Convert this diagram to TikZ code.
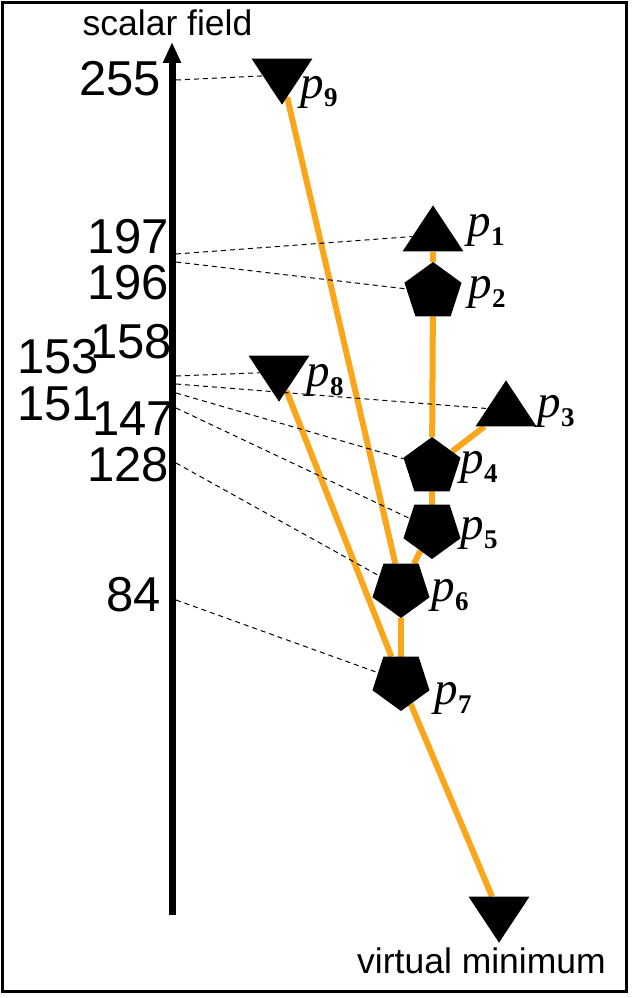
\documentclass[tikz,border=0pt]{standalone}
\usepackage{fontspec}
\setmainfont{Liberation Serif}
\newfontfamily\lsans{Liberation Sans}
\usetikzlibrary{shapes.geometric,arrows.meta}
\pgfdeclarelayer{bg}
\pgfsetlayers{bg,main}
\definecolor{edgeor}{RGB}{250,166,26}
\newcommand\plab[1]{\textit{p}\kern0.5pt\raisebox{-9pt}{\fontsize{27pt}{27pt}\selectfont\bfseries #1}}
\begin{document}
\begin{tikzpicture}[x=1pt,y=-1pt,
  tri/.style={isosceles triangle, isosceles triangle apex angle=67, fill=black, draw=none, inner sep=0pt, minimum width=46pt, minimum height=46pt, anchor=apex},
  triup/.style={tri, shape border rotate=90},
  tridown/.style={tri, shape border rotate=270},
  pent/.style={regular polygon, regular polygon sides=5, fill=black, draw=none, inner sep=0pt, minimum size=60pt},
  pentup/.style={pent},
  pentdown/.style={pent, shape border rotate=180},
  plabel/.style={font=\fontsize{47pt}{47pt}\selectfont, inner sep=0pt, anchor=base west},
  numlab/.style={font=\lsans\fontsize{49pt}{49pt}\selectfont, inner sep=0pt, anchor=east},
  sanslab/.style={font=\lsans\fontsize{35.5pt}{35.5pt}\selectfont, inner sep=0pt, anchor=base},
  oedge/.style={draw=edgeor, line width=6pt},
  dline/.style={draw=black, line width=1pt, dash pattern=on 5pt off 4pt}]
\useasboundingbox (0,0) rectangle (632,998);
\draw[line width=3pt] (2.5,2.5) rectangle (626.5,991.5);

% shapes
\node[tridown] (p9) at (282,105) {};
\node[triup] (p1) at (433,205) {};
\node[pentup] (p2) at (433,292) {};
\node[triup] (p3) at (506,380) {};
\node[pentup] (p4) at (432,467) {};
\node[pentdown] (p5) at (432,529) {};
\node[pentdown] (p6) at (401,588) {};
\node[pentdown] (p7) at (401,681) {};
\node[tridown] (p8) at (279,402) {};
\node[tridown] (vm) at (499,943) {};

% point labels
\node[plabel] (l9) at (300,98) {\plab{9}};
\node[plabel] (l1) at (467,236) {\plab{1}};
\node[plabel] (l2) at (468,298) {\plab{2}};
\node[plabel] (l3) at (537,417) {\plab{3}};
\node[plabel] (l4) at (460,473) {\plab{4}};
\node[plabel] (l5) at (460,539) {\plab{5}};
\node[plabel] (l6) at (431,601) {\plab{6}};
\node[plabel] (l7) at (434,704) {\plab{7}};
\node[plabel] (l8) at (306,386) {\plab{8}};

% value labels
\node[numlab] (n255) at (161,79) {255};
\node[numlab] (n197) at (169,237) {197};
\node[numlab] (n196) at (169,283) {196};
\node[numlab] (n158) at (172,342) {158};
\node[numlab] (n153) at (99,357) {153};
\node[numlab] (n151) at (99,404) {151};
\node[numlab] (n147) at (174,419) {147};
\node[numlab] (n128) at (169,465) {128};
\node[numlab] (n84) at (161,595) {84};

\node[sanslab] (title) at (167.5,36) {scalar field};
\node[sanslab] (vmlab) at (481.5,973) {virtual minimum};

% axis
\coordinate (axb) at (172,915);
\coordinate (axt) at (172,42);
\draw[line width=7pt, -{Triangle[width=17pt,length=21pt]}] (axb) -- (axt);

% axis points for dashed lines
\coordinate (a255) at (176,80);
\coordinate (a197) at (176,254);
\coordinate (a196) at (176,262);
\coordinate (a158) at (176,376);
\coordinate (a153) at (176,384);
\coordinate (a151) at (176,393);
\coordinate (a147) at (176,408);
\coordinate (a128) at (176,463);
\coordinate (a84) at (176,600);

\begin{pgfonlayer}{bg}
\draw[oedge] (p1) -- (p2);
\draw[oedge] (p2) -- (p4);
\draw[oedge] (p3) -- (p4);
\draw[oedge] (p4) -- (p5);
\draw[oedge] (p5) -- (p6);
\draw[oedge] (p6) -- (p7);
\draw[oedge] (p9) -- (p6);
\draw[oedge] (p8) -- (p7);
\draw[oedge] (p7) -- (vm);
\draw[dline] (a255) -- (p9);
\draw[dline] (a197) -- (p1);
\draw[dline] (a196) -- (p2);
\draw[dline] (a158) -- (p8);
\draw[dline] (a153) -- (p3);
\draw[dline] (a151) -- (p4);
\draw[dline] (a147) -- (p5);
\draw[dline] (a128) -- (p6);
\draw[dline] (a84) -- (p7);
\end{pgfonlayer}
\end{tikzpicture}
\end{document}
